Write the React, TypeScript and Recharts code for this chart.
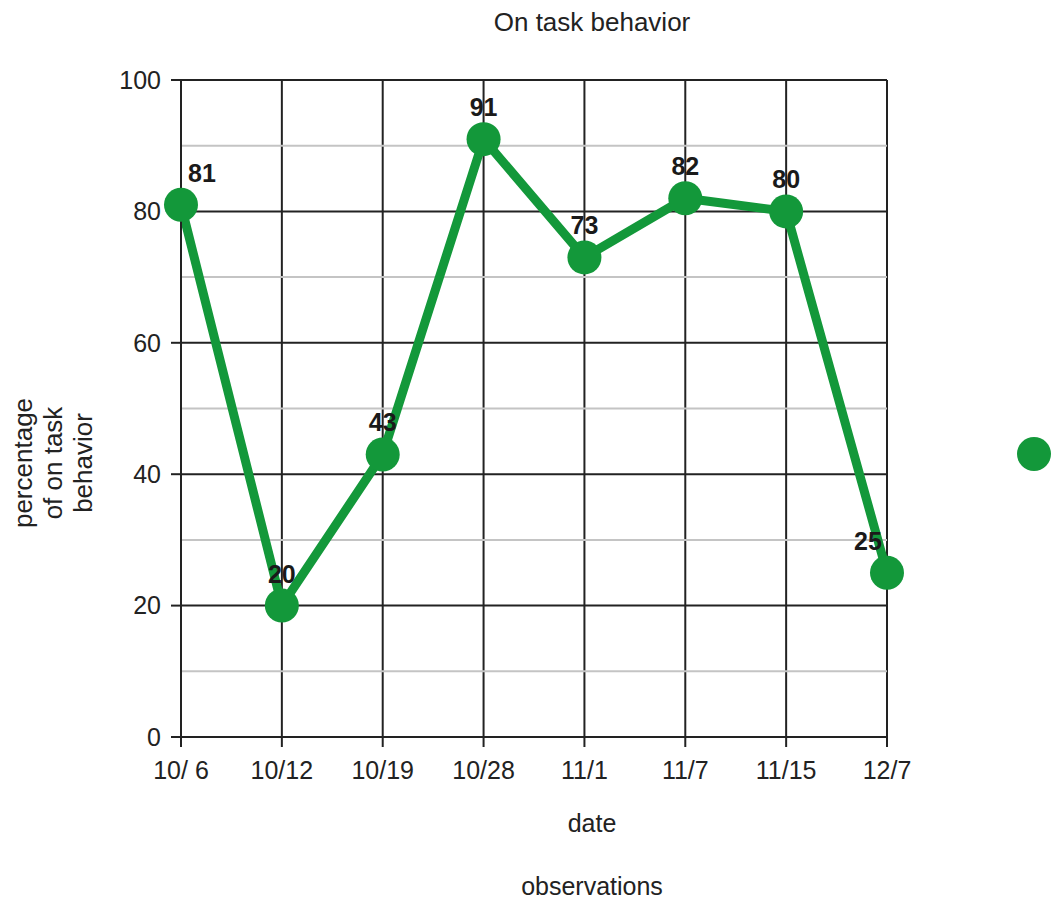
import React from 'react';
import { LineChart, Line, XAxis, YAxis, CartesianGrid, ReferenceLine, Legend, LabelList, Label } from 'recharts';

const dates = ['10/ 6', '10/12', '10/19', '10/28', '11/1', '11/7', '11/15', '12/7'];
const onTask = [81, 20, 43, 91, 73, 82, 80, 25];
const majorTicks = [0, 20, 40, 60, 80, 100];
const minorTicks = [10, 30, 50, 70, 90];

const data = dates.map((date, i) => ({ date, value: onTask[i] }));

const GREEN = '#13983a';
const FONT = '"Liberation Sans", Arial, sans-serif';
const TEXT = '#222';

const PointLabel = (props: any) => {
  const { x, y, value, index } = props;
  let dx = 0;
  if (index === 0) dx = 21;
  if (index === dates.length - 1) dx = -19;
  return (
    <text x={x + dx} y={y - 23} textAnchor="middle" fontSize={25} fontWeight="bold" fill="#1a1a1a" fontFamily={FONT}>
      {value}
    </text>
  );
};

const YTitle = () => (
  <text transform="translate(53,463) rotate(-90)" textAnchor="middle" fontSize={26} fill={TEXT} fontFamily={FONT}>
    <tspan x={0} dy={-21}>percentage</tspan>
    <tspan x={0} dy={30}>of on task</tspan>
    <tspan x={0} dy={30}>behavior</tspan>
  </text>
);

const XTitle = (props: any) => {
  const { viewBox } = props;
  return (
    <text x={592} y={viewBox.y + 95} textAnchor="middle" fontSize={25} fill={TEXT} fontFamily={FONT}>
      date
    </text>
  );
};

const LegendDot = () => (
  <svg width={36} height={36}>
    <circle cx={18} cy={18} r={17} fill={GREEN} />
  </svg>
);

export default function App() {
  return (
    <div style={{ position: 'absolute', left: 0, top: 0, width: 1052, height: 899, background: '#fff', fontFamily: FONT }}>
      <div style={{ position: 'absolute', left: 0, width: 1184, top: 6, textAlign: 'center', fontSize: 26, lineHeight: '32px', color: TEXT }}>
        On task behavior
      </div>
      <div style={{ position: 'absolute', left: 0, width: 1184, top: 870, textAlign: 'center', fontSize: 25, lineHeight: '32px', color: TEXT }}>
        observations
      </div>
      <LineChart width={1052} height={899} data={data} margin={{ top: 80, right: 165, bottom: 132, left: 121 }}>
        <CartesianGrid stroke={TEXT} strokeWidth={2} />
        {minorTicks.map((t) => (
          <ReferenceLine key={t} y={t} stroke="#c4c4c4" strokeWidth={2} />
        ))}
        <XAxis
          dataKey="date"
          height={30}
          axisLine={{ stroke: TEXT, strokeWidth: 2 }}
          tickLine={{ stroke: TEXT, strokeWidth: 2 }}
          tickSize={10}
          tickMargin={14}
          tick={{ fontSize: 25, fill: TEXT, fontFamily: FONT }}
          interval={0}
        >
          <Label content={<XTitle />} />
        </XAxis>
        <YAxis
          width={60}
          domain={[0, 100]}
          ticks={majorTicks}
          axisLine={{ stroke: TEXT, strokeWidth: 2 }}
          tickLine={{ stroke: TEXT, strokeWidth: 2 }}
          tickSize={10}
          tickMargin={10}
          tick={{ fontSize: 25, fill: TEXT, fontFamily: FONT }}
          label={<YTitle />}
        />
        <Legend
          layout="horizontal"
          verticalAlign="middle"
          align="center"
          content={<LegendDot />}
          wrapperStyle={{ position: 'absolute', left: 1016, top: 436, width: 36, height: 36 }}
        />
        <Line
          dataKey="value"
          stroke={GREEN}
          strokeWidth={9}
          dot={{ r: 17, fill: GREEN, stroke: GREEN, strokeWidth: 0 }}
          activeDot={false}
          isAnimationActive={false}
        >
          <LabelList dataKey="value" content={<PointLabel />} />
        </Line>
      </LineChart>
    </div>
  );
}
